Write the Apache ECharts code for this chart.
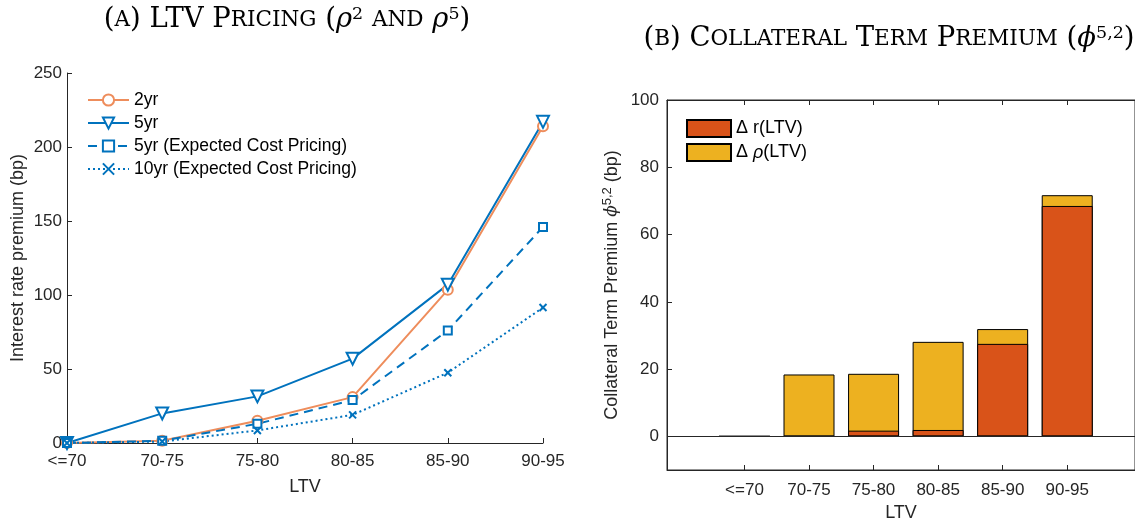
<!DOCTYPE html>
<html>
<head>
<meta charset="utf-8">
<script src="https://cdn.jsdelivr.net/npm/echarts@6/dist/echarts.min.js"></script>
<style>html,body{margin:0;padding:0;background:#fff;}#c{width:1135px;height:527px;}</style>
</head>
<body>
<div id="c"></div>
<script>
// ---- data ----
const categories = ['<=70', '70-75', '75-80', '80-85', '85-90', '90-95'];
const premium2yr = [0, 1.5, 15, 31, 103.5, 214];
const premium5yr = [0, 20, 31.5, 57, 107, 217];
const premium5yrECP = [0, 1.5, 13, 29, 76, 146];
const premium10yrECP = [0, 1, 8.5, 19, 47.5, 91.5];
const deltaR = [0, 0, 1.7, 1.9, 27.5, 68.5];
const deltaRho = [0, 18.4, 16.9, 26.2, 4.4, 3.2];
const leftYTicks = [0, 50, 100, 150, 200, 250];
const rightYTicks = [0, 20, 40, 60, 80, 100];

const txt = '#262626';
const sans = 'Liberation Sans';
const serif = 'DejaVu Serif';
const orange = '#EE8D5C';
const blue = '#0072BD';
const catIdx = categories.map((c, i) => i);
const stackTotal = deltaR.map((v, i) => v + deltaRho[i]);

const titleRich = {
  n: {fontFamily: serif, fontSize: 27.5, fontWeight: 'normal', color: '#000'},
  s: {fontFamily: serif, fontSize: 21.5, fontWeight: 'normal', color: '#000'},
  i: {fontFamily: serif, fontSize: 27.5, fontWeight: 'normal', fontStyle: 'italic', color: '#000'},
  p: {fontFamily: serif, fontSize: 17.5, fontWeight: 'normal', color: '#000', verticalAlign: 'top', padding: [0, 0, 12, 0]}
};
const tickFont = {fontFamily: sans, fontSize: 17, color: txt};
const nameFont = {fontFamily: sans, fontSize: 18, color: txt};

const chart = echarts.init(document.getElementById('c'));
chart.setOption({
  animation: false,
  title: [
    {text: '{n|(}{s|A}{n|) LTV P}{s|RICING}{n| (}{i|ρ}{p|2}{n| }{s|AND}{n| }{i|ρ}{p|5}{n|)}',
     left: 282, top: 0, textAlign: 'center', textStyle: {fontWeight: 'normal', rich: titleRich}},
    {text: '{n|(}{s|B}{n|) C}{s|OLLATERAL}{n| T}{s|ERM}{n| P}{s|REMIUM}{n| (}{i|ϕ}{p|5,2}{n|)}',
     left: 884, top: 19, textAlign: 'center', textStyle: {fontWeight: 'normal', rich: titleRich}}
  ],
  legend: [
    {orient: 'vertical', left: 87, top: 91, padding: 0, itemWidth: 41, itemHeight: 14, itemGap: 5,
     textStyle: {fontFamily: sans, fontSize: 17.5, color: '#000'},
     data: ['2yr', '5yr', '5yr (Expected Cost Pricing)', '10yr (Expected Cost Pricing)']},
    {orient: 'vertical', left: 686, top: 119, padding: 0, itemWidth: 44, itemHeight: 17, itemGap: 5, icon: 'rect',
     textStyle: {fontFamily: sans, fontSize: 18, color: '#000',
       rich: {i: {fontFamily: sans, fontSize: 18, fontStyle: 'italic', color: '#000'}}},
     formatter: function (name) { return name === 'dr' ? 'Δ r(LTV)' : 'Δ {i|ρ}(LTV)'; },
     data: ['dr', 'drho']}
  ],
  grid: [
    {left: 67, right: 592, top: 73, bottom: 84},
    {left: 667, right: 0, top: 100, bottom: 55, show: true, borderColor: txt, borderWidth: 1, backgroundColor: 'transparent'}
  ],
  xAxis: [
    {gridIndex: 0, type: 'category', data: categories, boundaryGap: false,
     name: 'LTV', nameLocation: 'middle', nameGap: 35, nameTextStyle: nameFont,
     axisLine: {lineStyle: {color: txt, width: 1}},
     axisTick: {inside: true, length: 5, alignWithLabel: true, lineStyle: {color: txt}},
     axisLabel: Object.assign({margin: 10, interval: 0}, tickFont),
     splitLine: {show: false}},
    {gridIndex: 1, type: 'value', min: -1.2, max: 6.05,
     name: 'LTV', nameLocation: 'middle', nameGap: 34, nameTextStyle: nameFont,
     axisLine: {onZero: false, lineStyle: {color: txt, width: 1}},
     axisTick: {inside: true, length: 5, customValues: catIdx, lineStyle: {color: txt}},
     axisLabel: Object.assign({margin: 12, customValues: catIdx,
       formatter: function (v) { return categories[Math.round(v)]; }}, tickFont),
     splitLine: {show: false}},
    {gridIndex: 1, type: 'value', min: -1.2, max: 6.05, position: 'top',
     axisLine: {onZero: false, lineStyle: {color: txt, width: 1}},
     axisTick: {inside: true, length: 5, customValues: catIdx, lineStyle: {color: txt}},
     axisLabel: {show: false}, splitLine: {show: false}}
  ],
  yAxis: [
    {gridIndex: 0, type: 'value', min: 0, max: 250, interval: 50,
     name: 'Interest rate premium (bp)', nameLocation: 'middle', nameGap: 40, nameTextStyle: nameFont,
     axisLine: {show: true, lineStyle: {color: txt, width: 1}},
     axisTick: {show: true, inside: true, length: 5, lineStyle: {color: txt}},
     axisLabel: Object.assign({margin: 5}, tickFont),
     splitLine: {show: false}},
    {gridIndex: 1, type: 'value', min: -10, max: 100,
     name: '{n|Collateral Term Premium }{i|ϕ}{p|5,2}{n| (bp)}', nameLocation: 'middle', nameGap: 44,
     nameTextStyle: {rich: {
       n: {fontFamily: sans, fontSize: 18, color: txt},
       i: {fontFamily: serif, fontSize: 17, fontStyle: 'italic', color: txt},
       p: {fontFamily: sans, fontSize: 13, color: txt, verticalAlign: 'top', padding: [0, 0, 9, 0]}}},
     axisLine: {show: true, onZero: false, lineStyle: {color: txt, width: 1}},
     axisTick: {show: true, inside: true, length: 5, customValues: rightYTicks, lineStyle: {color: txt}},
     axisLabel: Object.assign({margin: 8, customValues: rightYTicks}, tickFont),
     splitLine: {show: false}}
  ],
  series: [
    {name: '2yr', type: 'line', xAxisIndex: 0, yAxisIndex: 0, data: premium2yr,
     color: orange, symbol: 'emptyCircle', symbolSize: 10,
     lineStyle: {width: 2, color: orange}, itemStyle: {color: orange, borderWidth: 1.5}},
    {name: '5yr', type: 'line', xAxisIndex: 0, yAxisIndex: 0, data: premium5yr,
     color: blue, symbol: 'emptyTriangle', symbolRotate: 180, symbolSize: 12,
     lineStyle: {width: 2, color: blue}, itemStyle: {color: blue, borderWidth: 1.5}},
    {name: '5yr (Expected Cost Pricing)', type: 'line', xAxisIndex: 0, yAxisIndex: 0, data: premium5yrECP,
     color: blue, symbol: 'emptyRect', symbolSize: 8,
     lineStyle: {width: 2, color: blue, type: [9, 6]}, itemStyle: {color: blue, borderWidth: 2}},
    {name: '10yr (Expected Cost Pricing)', type: 'line', xAxisIndex: 0, yAxisIndex: 0, data: premium10yrECP,
     color: blue, symbol: 'path://M0,0L10,10M10,0L0,10', symbolSize: 7,
     lineStyle: {width: 2, color: blue, type: [2, 3]}, itemStyle: {color: blue, borderColor: blue, borderWidth: 2}},
    // total height (Δr + Δρ) drawn first in yellow, Δr drawn on top in red => stacked look
    {name: 'drho', type: 'bar', xAxisIndex: 1, yAxisIndex: 1, barWidth: 51, barGap: '-100%',
     data: stackTotal.map((v, i) => [i, v]),
     itemStyle: {color: '#EDB120', borderColor: '#000', borderWidth: 1}},
    {name: 'dr', type: 'bar', xAxisIndex: 1, yAxisIndex: 1, barWidth: 51, barGap: '-100%',
     data: deltaR.map((v, i) => [i, v]),
     itemStyle: {color: '#D95319', borderColor: '#000', borderWidth: 1},
     markLine: {silent: true, symbol: 'none', label: {show: false},
       lineStyle: {color: txt, width: 1, type: 'solid'}, data: [{yAxis: 0}]}}
  ]
});
</script>
</body>
</html>
